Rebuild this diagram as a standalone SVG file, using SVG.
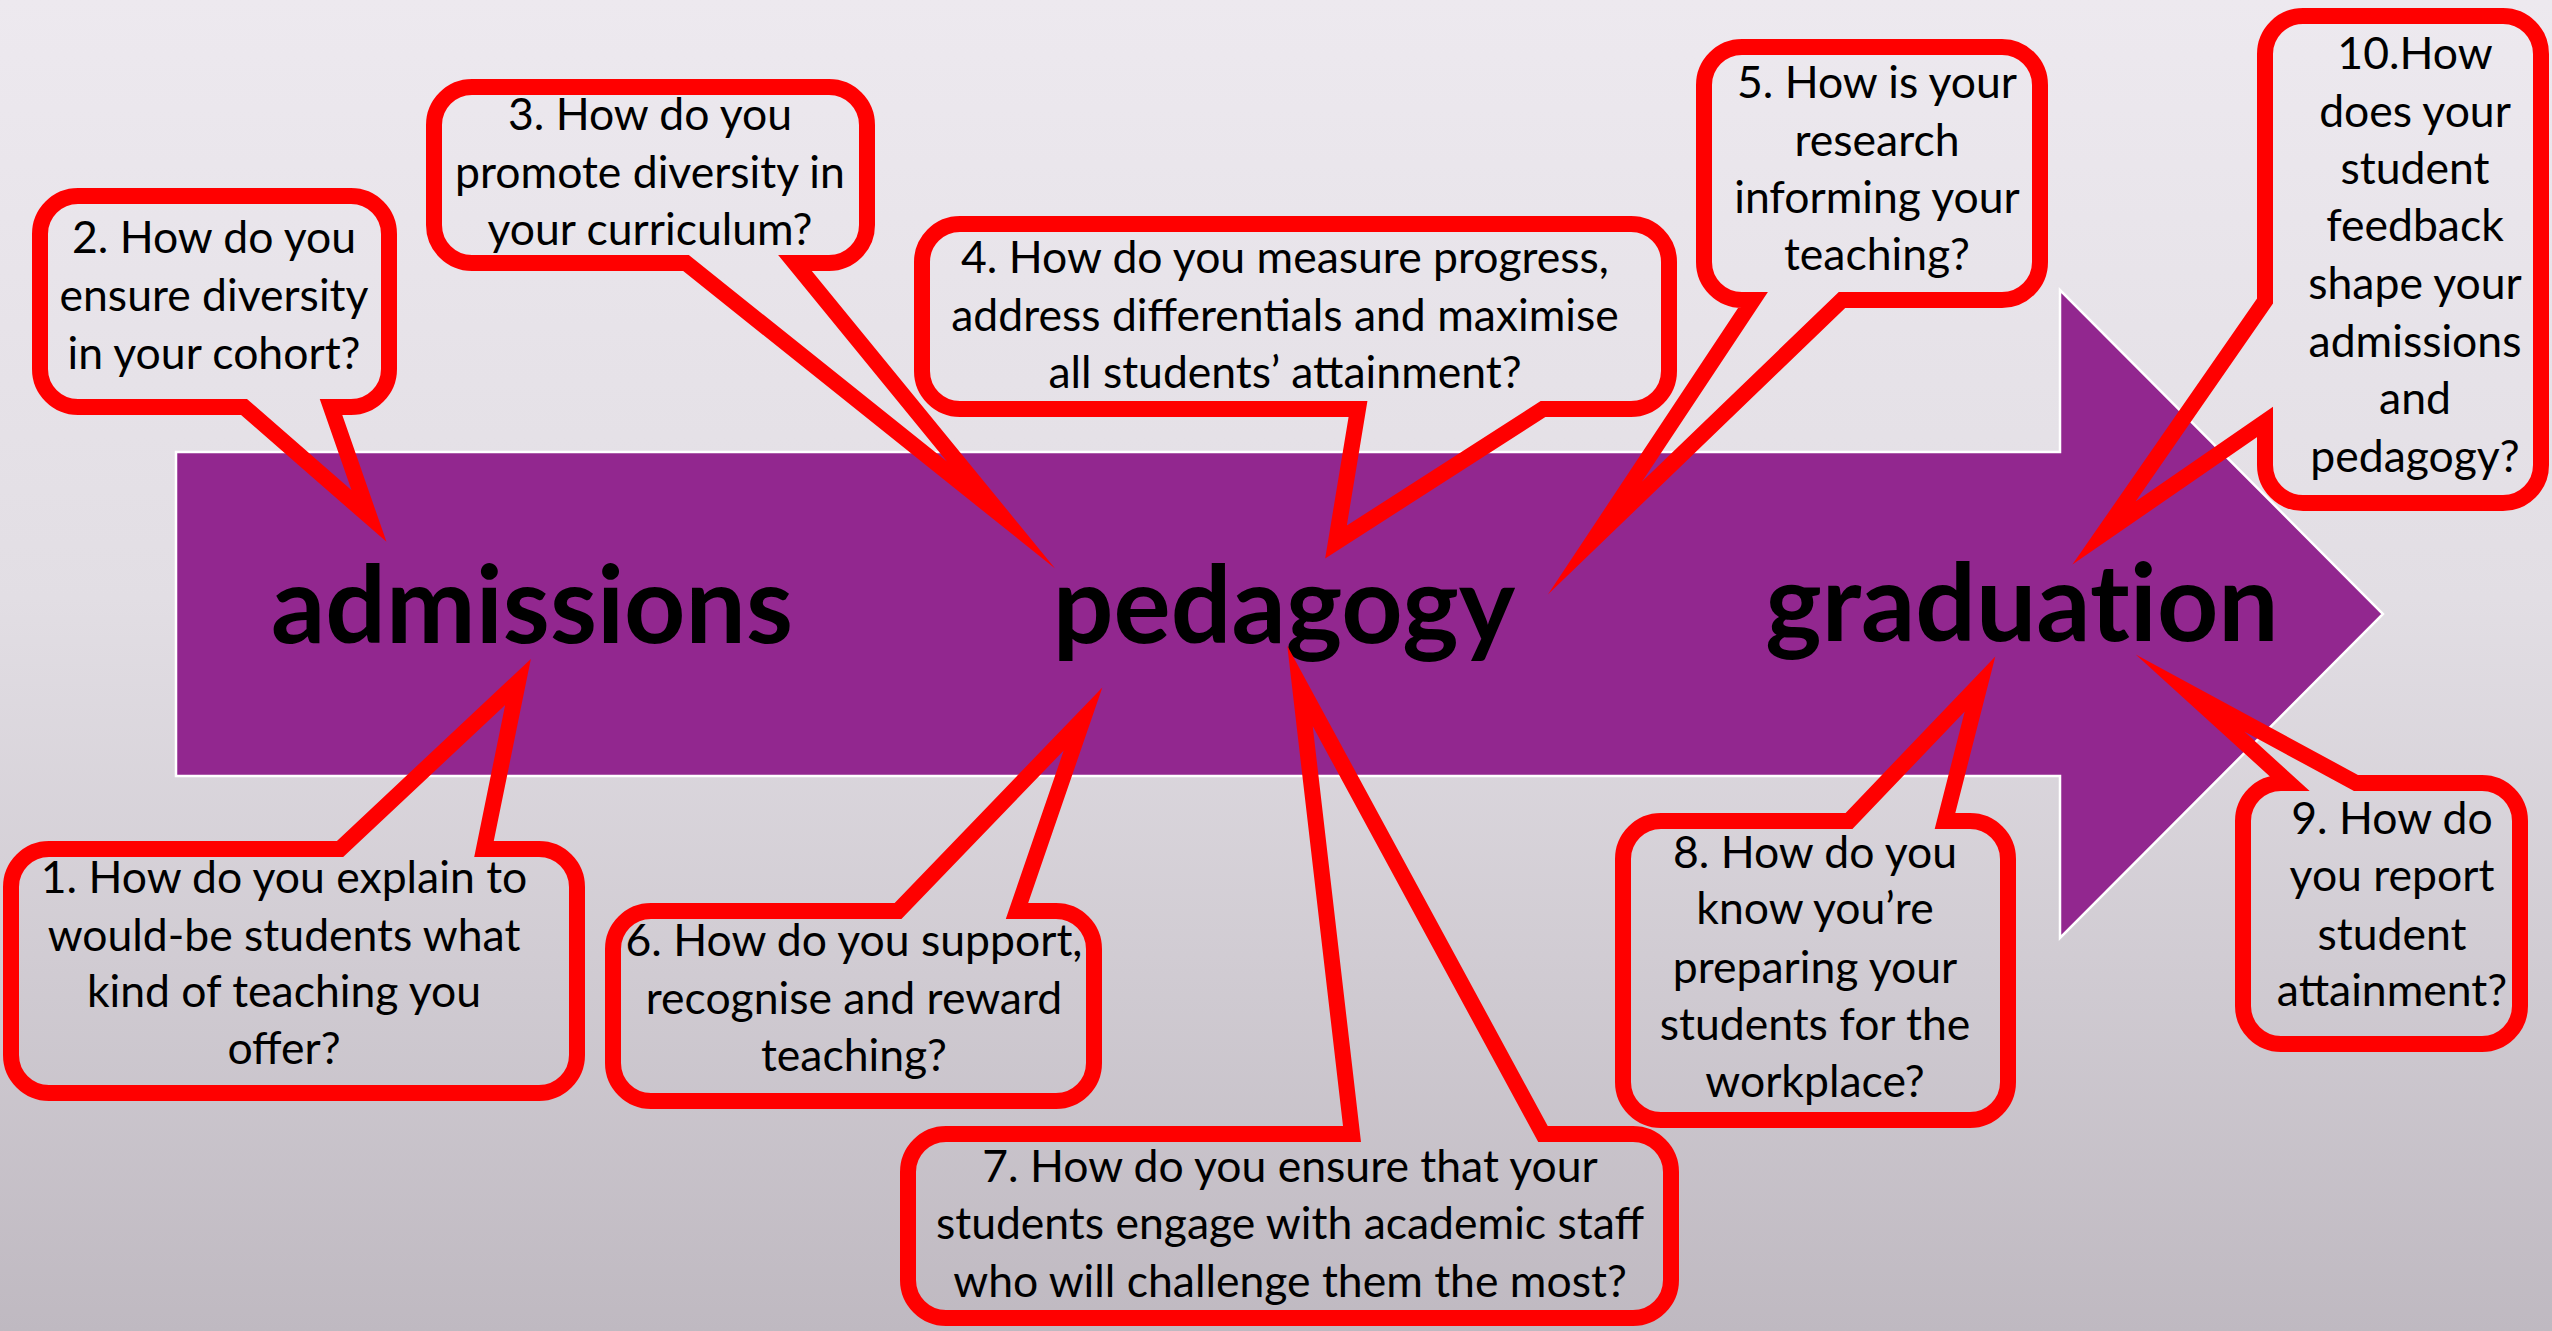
<svg xmlns="http://www.w3.org/2000/svg" width="2552" height="1331" viewBox="0 0 2552 1331">
<defs>
<linearGradient id="bg" x1="0" y1="0" x2="0" y2="1">
<stop offset="0" stop-color="#EDE9EF"/>
<stop offset="0.45" stop-color="#E2DEE4"/>
<stop offset="1" stop-color="#BFB9C1"/>
</linearGradient>
<style>
.bubble{fill:none;stroke:#FF0000;stroke-width:16;stroke-linejoin:miter;stroke-miterlimit:40}
.q{font-family:Lato,"Liberation Sans",sans-serif;font-size:44.5px;fill:#000;text-anchor:middle}
.title{font-family:Lato,"Liberation Sans",sans-serif;font-weight:bold;font-size:107px;fill:#000;text-anchor:middle;font-variant-ligatures:none}
</style>
</defs>
<rect x="0" y="0" width="2552" height="1331" fill="url(#bg)"/>
<g id="arrow">
<polygon points="176,452 2060,452 2060,290 2383,614 2060,938 2060,776 176,776" fill="#92278F" stroke="#FFFFFF" stroke-width="2.5"/>
</g>
<g id="node-admissions"><text class="title" x="532" y="643">admissions</text></g>
<g id="node-pedagogy"><text class="title" x="1284" y="643">pedagogy</text></g>
<g id="node-graduation"><text class="title" x="2022" y="641">graduation</text></g>
<g id="connectors"></g>
<g id="callout-1">
<path class="bubble" d="M49,849 L340,849 L518,682 L484,849 L539,849 A38,38 0 0 1 577,887 L577,1055 A38,38 0 0 1 539,1093 L49,1093 A38,38 0 0 1 11,1055 L11,887 A38,38 0 0 1 49,849 Z"/>
<text class="q"><tspan x="284" y="893">1. How do you explain to</tspan><tspan x="284" y="951">would-be students what</tspan><tspan x="284" y="1007">kind of teaching you</tspan><tspan x="284" y="1064">offer?</tspan></text>
</g>
<g id="callout-2">
<path class="bubble" d="M78,196 L351,196 A38,38 0 0 1 389,234 L389,369 A38,38 0 0 1 351,407 L331,407 L369,516 L244,407 L78,407 A38,38 0 0 1 40,369 L40,234 A38,38 0 0 1 78,196 Z"/>
<text class="q"><tspan x="214" y="253">2. How do you</tspan><tspan x="214" y="311">ensure diversity</tspan><tspan x="214" y="369">in your cohort?</tspan></text>
</g>
<g id="callout-3">
<path class="bubble" d="M472,87 L829,87 A38,38 0 0 1 867,125 L867,225 A38,38 0 0 1 829,263 L795,263 L1001,515 L686,263 L472,263 A38,38 0 0 1 434,225 L434,125 A38,38 0 0 1 472,87 Z"/>
<text class="q"><tspan x="650" y="130">3. How do you</tspan><tspan x="650" y="188">promote diversity in</tspan><tspan x="650" y="245">your curriculum?</tspan></text>
</g>
<g id="callout-4">
<path class="bubble" d="M960,224 L1631,224 A38,38 0 0 1 1669,262 L1669,371 A38,38 0 0 1 1631,409 L1543,409 L1336,542 L1358,409 L960,409 A38,38 0 0 1 922,371 L922,262 A38,38 0 0 1 960,224 Z"/>
<text class="q"><tspan x="1285" y="273">4. How do you measure progress,</tspan><tspan x="1285" y="331">address differentials and maximise</tspan><tspan x="1285" y="388">all students’ attainment?</tspan></text>
</g>
<g id="callout-5">
<path class="bubble" d="M1742,47 L2002,47 A38,38 0 0 1 2040,85 L2040,262 A38,38 0 0 1 2002,300 L1842,300 L1595,538 L1753,300 L1742,300 A38,38 0 0 1 1704,262 L1704,85 A38,38 0 0 1 1742,47 Z"/>
<text class="q"><tspan x="1877" y="98">5. How is your</tspan><tspan x="1877" y="156">research</tspan><tspan x="1877" y="213">informing your</tspan><tspan x="1877" y="270">teaching?</tspan></text>
</g>
<g id="callout-6">
<path class="bubble" d="M651,911 L898,911 L1083,719 L1017,911 L1056,911 A38,38 0 0 1 1094,949 L1094,1063 A38,38 0 0 1 1056,1101 L651,1101 A38,38 0 0 1 613,1063 L613,949 A38,38 0 0 1 651,911 Z"/>
<text class="q"><tspan x="854" y="956">6. How do you support,</tspan><tspan x="854" y="1014">recognise and reward</tspan><tspan x="854" y="1071">teaching?</tspan></text>
</g>
<g id="callout-7">
<path class="bubble" d="M946,1134 L1352,1134 L1300,686 L1543,1134 L1633,1134 A38,38 0 0 1 1671,1172 L1671,1280 A38,38 0 0 1 1633,1318 L946,1318 A38,38 0 0 1 908,1280 L908,1172 A38,38 0 0 1 946,1134 Z"/>
<text class="q"><tspan x="1290" y="1182">7. How do you ensure that your</tspan><tspan x="1290" y="1239">students engage with academic staff</tspan><tspan x="1290" y="1297">who will challenge them the most?</tspan></text>
</g>
<g id="callout-8">
<path class="bubble" d="M1661,821 L1849,821 L1980,684 L1945,821 L1970,821 A38,38 0 0 1 2008,859 L2008,1082 A38,38 0 0 1 1970,1120 L1661,1120 A38,38 0 0 1 1623,1082 L1623,859 A38,38 0 0 1 1661,821 Z"/>
<text class="q"><tspan x="1815" y="868">8. How do you</tspan><tspan x="1815" y="924">know you’re</tspan><tspan x="1815" y="983">preparing your</tspan><tspan x="1815" y="1040">students for the</tspan><tspan x="1815" y="1097">workplace?</tspan></text>
</g>
<g id="callout-9">
<path class="bubble" d="M2281,783 L2289,783 L2190,693 L2356,783 L2482,783 A38,38 0 0 1 2520,821 L2520,1006 A38,38 0 0 1 2482,1044 L2281,1044 A38,38 0 0 1 2243,1006 L2243,821 A38,38 0 0 1 2281,783 Z"/>
<text class="q"><tspan x="2392" y="834">9. How do</tspan><tspan x="2392" y="891">you report</tspan><tspan x="2392" y="950">student</tspan><tspan x="2392" y="1006">attainment?</tspan></text>
</g>
<g id="callout-10">
<path class="bubble" d="M2303,16 L2503,16 A38,38 0 0 1 2541,54 L2541,465 A38,38 0 0 1 2503,503 L2303,503 A38,38 0 0 1 2265,465 L2265,422 L2104,533 L2265,301 L2265,54 A38,38 0 0 1 2303,16 Z"/>
<text class="q"><tspan x="2415" y="69">10.How</tspan><tspan x="2415" y="127">does your</tspan><tspan x="2415" y="184">student</tspan><tspan x="2415" y="241">feedback</tspan><tspan x="2415" y="299">shape your</tspan><tspan x="2415" y="357">admissions</tspan><tspan x="2415" y="414">and</tspan><tspan x="2415" y="472">pedagogy?</tspan></text>
</g>
</svg>
